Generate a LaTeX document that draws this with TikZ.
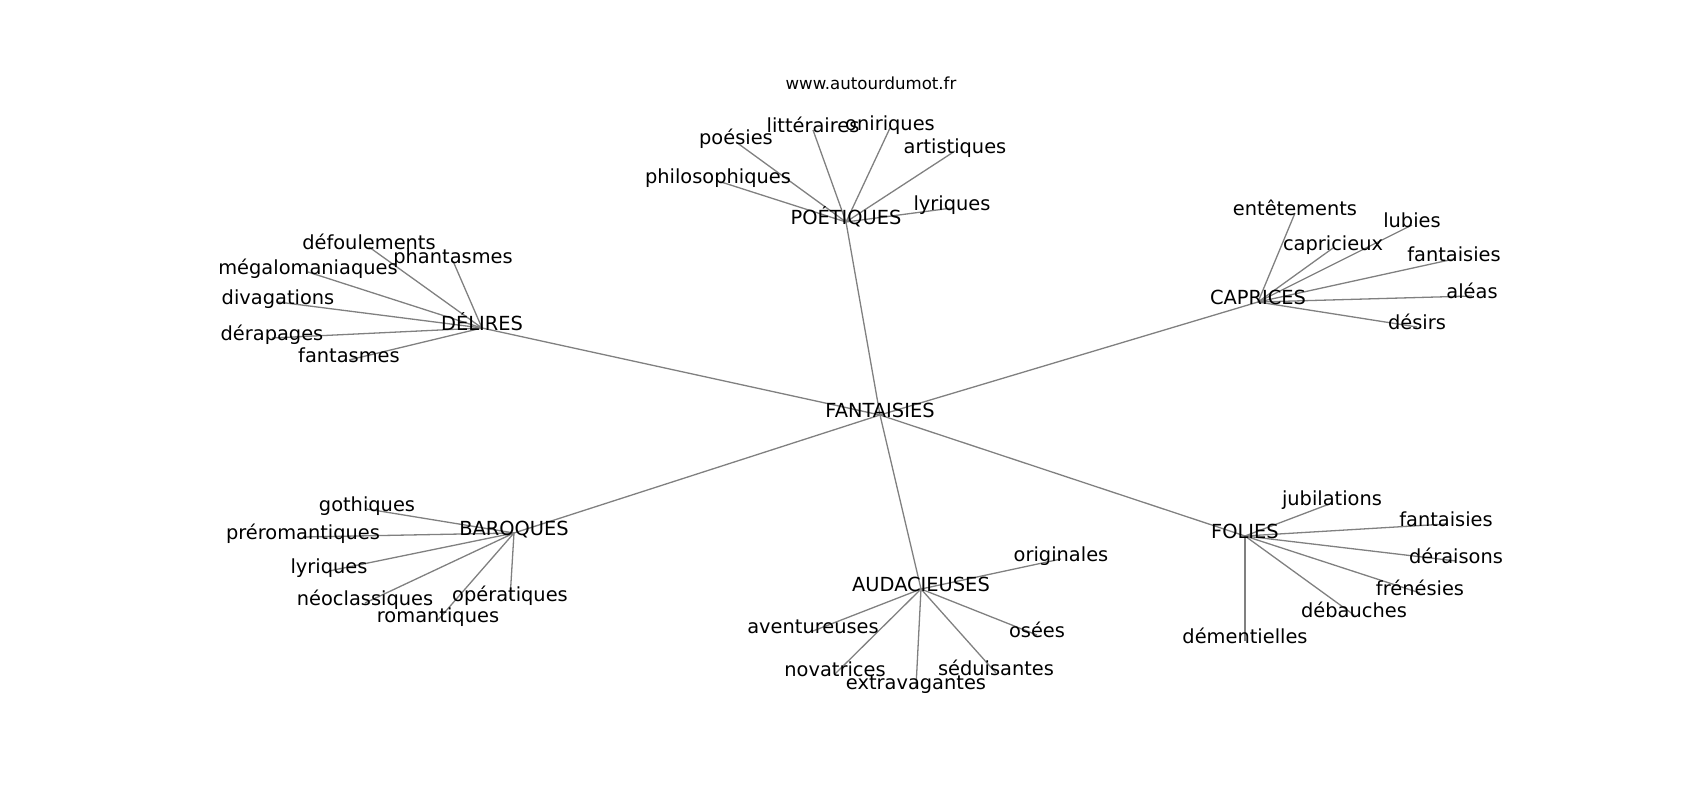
\documentclass[tikz,border=0pt]{standalone}
\usepackage{fontspec}
\setmainfont{DejaVu Sans}
\usepackage{tikz}
\usetikzlibrary{positioning,backgrounds}
\tikzset{
    word/.style={inner sep=0pt, text height=0.76em, text depth=0.24em, font=\fontsize{19.4}{23}\selectfont},
    link/.style={draw=gray, line width=1.3pt}
}

\begin{document}
\begin{tikzpicture}[x=1pt, y=-1pt,
    hub/.style={word},
    leaf/.style={word},
    site/.style={word, font=\fontsize{16.6}{20}\selectfont}]
\useasboundingbox (0,-3) rectangle (1700,797);

\node [site] (site) at (871,84) {www.autourdumot.fr};

% centre and its six branches
\node [hub] (fantaisies) at (880,412) {FANTAISIES};
\node [hub] (poetiques) at (846,219) {POÉTIQUES};
\node [hub] (delires) at (482,325) {DÉLIRES};
\node [hub] (caprices) at (1258,299) {CAPRICES};
\node [hub] (baroques) at (514,530) {BAROQUES};
\node [hub] (audacieuses) at (921,586) {AUDACIEUSES};
\node [hub] (folies) at (1245,533) {FOLIES};

% POÉTIQUES
\node [leaf] (poesies) at (736,139) {poésies};
\node [leaf] (litteraires) at (813,127) {littéraires};
\node [leaf] (oniriques) at (890,125) {oniriques};
\node [leaf] (artistiques) at (955,148) {artistiques};
\node [leaf] (philo) at (718,178) {philosophiques};
\node [leaf] (lyriques) at (952,205) {lyriques};

% DÉLIRES
\node [leaf] (defoulements) at (369,244) {défoulements};
\node [leaf] (phantasmes) at (453,258) {phantasmes};
\node [leaf] (megalo) at (308,269) {mégalomaniaques};
\node [leaf] (divagations) at (278,299) {divagations};
\node [leaf] (derapages) at (272,335) {dérapages};
\node [leaf] (fantasmes) at (349,357) {fantasmes};

% CAPRICES
\node [leaf] (entetements) at (1295,210) {entêtements};
\node [leaf] (lubies) at (1412,222) {lubies};
\node [leaf] (capricieux) at (1333,245) {capricieux};
\node [leaf] (fantaisiesc) at (1454,256) {fantaisies};
\node [leaf] (aleas) at (1472,293) {aléas};
\node [leaf] (desirs) at (1417,324) {désirs};

% BAROQUES
\node [leaf] (gothiques) at (367,506) {gothiques};
\node [leaf] (preromantiques) at (303,534) {préromantiques};
\node [leaf] (lyriquesb) at (329,568) {lyriques};
\node [leaf] (neoclassiques) at (365,600) {néoclassiques};
\node [leaf] (operatiques) at (510,596) {opératiques};
\node [leaf] (romantiques) at (438,617) {romantiques};

% AUDACIEUSES
\node [leaf] (originales) at (1061,556) {originales};
\node [leaf] (aventureuses) at (813,628) {aventureuses};
\node [leaf] (osees) at (1037,632) {osées};
\node [leaf] (novatrices) at (835,671) {novatrices};
\node [leaf] (seduisantes) at (996,670) {séduisantes};
\node [leaf] (extravagantes) at (916,684) {extravagantes};

% FOLIES
\node [leaf] (jubilations) at (1332,500) {jubilations};
\node [leaf] (fantaisiesf) at (1446,521) {fantaisies};
\node [leaf] (deraisons) at (1456,558) {déraisons};
\node [leaf] (frenesies) at (1420,590) {frénésies};
\node [leaf] (debauches) at (1354,612) {débauches};
\node [leaf] (dementielles) at (1245,638) {démentielles};

% edges go under the words
\begin{scope}[on background layer]
\draw [link] (fantaisies.center) -- (poetiques.center);
\draw [link] (fantaisies.center) -- (delires.center);
\draw [link] (fantaisies.center) -- (caprices.center);
\draw [link] (fantaisies.center) -- (baroques.center);
\draw [link] (fantaisies.center) -- (audacieuses.center);
\draw [link] (fantaisies.center) -- (folies.center);

\draw [link] (poetiques.center) -- (poesies.center);
\draw [link] (poetiques.center) -- (litteraires.center);
\draw [link] (poetiques.center) -- (oniriques.center);
\draw [link] (poetiques.center) -- (artistiques.center);
\draw [link] (poetiques.center) -- (philo.center);
\draw [link] (poetiques.center) -- (lyriques.center);

\draw [link] (delires.center) -- (defoulements.center);
\draw [link] (delires.center) -- (phantasmes.center);
\draw [link] (delires.center) -- (megalo.center);
\draw [link] (delires.center) -- (divagations.center);
\draw [link] (delires.center) -- (derapages.center);
\draw [link] (delires.center) -- (fantasmes.center);

\draw [link] (caprices.center) -- (entetements.center);
\draw [link] (caprices.center) -- (lubies.center);
\draw [link] (caprices.center) -- (capricieux.center);
\draw [link] (caprices.center) -- (fantaisiesc.center);
\draw [link] (caprices.center) -- (aleas.center);
\draw [link] (caprices.center) -- (desirs.center);

\draw [link] (baroques.center) -- (gothiques.center);
\draw [link] (baroques.center) -- (preromantiques.center);
\draw [link] (baroques.center) -- (lyriquesb.center);
\draw [link] (baroques.center) -- (neoclassiques.center);
\draw [link] (baroques.center) -- (operatiques.center);
\draw [link] (baroques.center) -- (romantiques.center);

\draw [link] (audacieuses.center) -- (originales.center);
\draw [link] (audacieuses.center) -- (aventureuses.center);
\draw [link] (audacieuses.center) -- (osees.center);
\draw [link] (audacieuses.center) -- (novatrices.center);
\draw [link] (audacieuses.center) -- (seduisantes.center);
\draw [link] (audacieuses.center) -- (extravagantes.center);

\draw [link] (folies.center) -- (jubilations.center);
\draw [link] (folies.center) -- (fantaisiesf.center);
\draw [link] (folies.center) -- (deraisons.center);
\draw [link] (folies.center) -- (frenesies.center);
\draw [link] (folies.center) -- (debauches.center);
\draw [link] (folies.center) -- (dementielles.center);
\end{scope}

\end{tikzpicture}
\end{document}
